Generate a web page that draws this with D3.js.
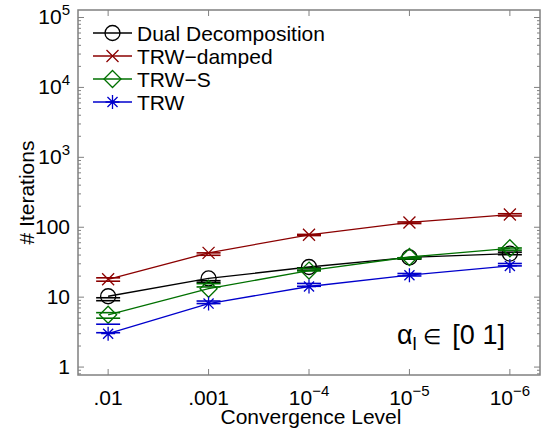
<!DOCTYPE html>
<html>
<head>
<meta charset="utf-8">
<script src="https://cdn.jsdelivr.net/npm/d3@7"></script>
<style>
body { margin: 0; background: #fff; }
text { font-family: "Liberation Sans", Arial, sans-serif; }
</style>
</head>
<body>
<div></div>
<script>
var width = 541;
var height = 428;

// data
var levels = ['.01', '.001', '-4', '-5', '-6'];
var seriesNames = ['Dual Decomposition', 'TRW-damped', 'TRW-S', 'TRW'];
var dualVals = [10.3, 18.5, 27, 37, 42];
var dualLo = [8.9, 16.2, 24.3, 34.9, 40.5];
var dualHi = [9.8, 17.2, 26.2, 36.6, 44];
var dampedVals = [18, 43, 78, 117, 152];
var dampedLo = [16.9, 39.7, 76, 113, 145];
var dampedHi = [18.9, 43, 79, 119, 156];
var trwsVals = [5.6, 13.2, 24, 37.5, 50];
var trwsLo = [5.0, 14, 23.7, 35.3, 47];
var trwsHi = [6.0, 15.6, 25.7, 36.5, 50.5];
var trwVals = [3.0, 8.1, 14.2, 20.6, 28];
var trwLo = [3.1, 8.1, 14.3, 20.1, 28];
var trwHi = [4.1, 8.8, 15.7, 21.8, 30.3];
var yTicks = [1, 10, 100, 1000, 10000, 100000];

var series = [
    { name: seriesNames[0], vals: dualVals, lo: dualLo, hi: dualHi, color: '#000000', marker: 'circle' },
    { name: seriesNames[1], vals: dampedVals, lo: dampedLo, hi: dampedHi, color: '#8b0000', marker: 'x' },
    { name: seriesNames[2], vals: trwsVals, lo: trwsLo, hi: trwsHi, color: '#007000', marker: 'diamond' },
    { name: seriesNames[3], vals: trwVals, lo: trwLo, hi: trwHi, color: '#0000cc', marker: 'star' }
];

var pL = 78, pR = 540, pT = 10, pB = 375;
var fs = 21;

var svg = d3.select('div')
    .append('svg').attr('width', width).attr('height', height);

var x = d3.scaleLinear().domain([0.7, 5.3]).range([pL, pR]);
var y = d3.scaleLog().domain([0.77, 128000]).range([pB, pT]);

var axisColor = '#808080';

// frame
svg.append('rect')
    .attr('x', pL).attr('y', pT)
    .attr('width', pR - pL).attr('height', pB - pT)
    .attr('fill', 'none').attr('stroke', axisColor).attr('stroke-width', 1.5);

var g = svg.append('g');

// y ticks (major + minor), left and right, inward
var minor = [];
yTicks.forEach(function (t) {
    for (var k = 2; k <= 9; k++) {
        if (t * k < 128000) minor.push(t * k);
    }
});
minor.push(0.8, 0.9);
minor.forEach(function (v) {
    g.append('line').attr('x1', pL).attr('x2', pL + 3)
        .attr('y1', y(v)).attr('y2', y(v)).attr('stroke', axisColor);
    g.append('line').attr('x1', pR).attr('x2', pR - 3)
        .attr('y1', y(v)).attr('y2', y(v)).attr('stroke', axisColor);
});
yTicks.forEach(function (v) {
    g.append('line').attr('x1', pL).attr('x2', pL + 6)
        .attr('y1', y(v)).attr('y2', y(v)).attr('stroke', axisColor);
    g.append('line').attr('x1', pR).attr('x2', pR - 6)
        .attr('y1', y(v)).attr('y2', y(v)).attr('stroke', axisColor);
});

// y tick labels
var yLab = g.selectAll('.ylab').data(yTicks).enter().append('text')
    .attr('x', pL - 8)
    .attr('y', function (d) { return y(d) + 7; })
    .attr('text-anchor', 'end')
    .attr('font-size', fs);
yLab.each(function (d) {
    var t = d3.select(this);
    if (d <= 100) {
        t.text(d);
    } else {
        t.append('tspan').text('10');
        t.append('tspan').attr('font-size', 15).attr('dy', -9).text(Math.round(Math.log10(d)));
    }
});

// x ticks top and bottom
levels.forEach(function (l, i) {
    var xx = x(i + 1);
    g.append('line').attr('x1', xx).attr('x2', xx).attr('y1', pB).attr('y2', pB - 6).attr('stroke', axisColor);
    g.append('line').attr('x1', xx).attr('x2', xx).attr('y1', pT).attr('y2', pT + 6).attr('stroke', axisColor);
    var t = g.append('text').attr('x', xx).attr('y', 405).attr('text-anchor', 'middle').attr('font-size', fs);
    if (l.charAt(0) == '.') {
        t.text(l);
    } else {
        t.append('tspan').text('10');
        t.append('tspan').attr('font-size', 15).attr('dy', -9).text('\u2212' + l.slice(1));
    }
});

// axis titles
svg.append('text').attr('x', 311).attr('y', 424).attr('text-anchor', 'middle')
    .attr('font-size', fs).text('Convergence Level');
svg.append('text')
    .attr('transform', 'translate(34,' + ((pT + pB) / 2) + ') rotate(-90)')
    .attr('text-anchor', 'middle').attr('font-size', fs).text('# Iterations');

function drawMarker(sel, type, cx, cy, color) {
    if (type == 'circle') {
        sel.append('circle').attr('cx', cx).attr('cy', cy).attr('r', 7.5)
            .attr('fill', 'none').attr('stroke', color).attr('stroke-width', 1.3);
    } else if (type == 'x') {
        var s = 6;
        sel.append('path')
            .attr('d', 'M' + (cx - s) + ',' + (cy - s) + 'L' + (cx + s) + ',' + (cy + s) +
                'M' + (cx - s) + ',' + (cy + s) + 'L' + (cx + s) + ',' + (cy - s))
            .attr('stroke', color).attr('stroke-width', 1.3);
    } else if (type == 'diamond') {
        var s = 8.5;
        sel.append('path')
            .attr('d', 'M' + cx + ',' + (cy - s) + 'L' + (cx + s) + ',' + cy + 'L' + cx + ',' + (cy + s) +
                'L' + (cx - s) + ',' + cy + 'Z')
            .attr('fill', 'none').attr('stroke', color).attr('stroke-width', 1.3);
    } else {
        var s = 7, d = s * 0.72;
        sel.append('path')
            .attr('d', 'M' + (cx - s) + ',' + cy + 'L' + (cx + s) + ',' + cy +
                'M' + cx + ',' + (cy - s) + 'L' + cx + ',' + (cy + s) +
                'M' + (cx - d) + ',' + (cy - d) + 'L' + (cx + d) + ',' + (cy + d) +
                'M' + (cx - d) + ',' + (cy + d) + 'L' + (cx + d) + ',' + (cy - d))
            .attr('stroke', color).attr('stroke-width', 1.3);
    }
}

var line = d3.line()
    .x(function (d, i) { return x(i + 1); })
    .y(function (d) { return y(d); });

series.forEach(function (s) {
    var sg = g.append('g');
    sg.append('path').attr('d', line(s.vals))
        .attr('fill', 'none').attr('stroke', s.color).attr('stroke-width', 1.3);
    s.vals.forEach(function (v, i) {
        var xx = x(i + 1);
        [s.lo[i], s.hi[i]].forEach(function (c) {
            sg.append('line').attr('x1', xx - 12).attr('x2', xx + 12)
                .attr('y1', y(c)).attr('y2', y(c))
                .attr('stroke', s.color).attr('stroke-width', 1.6);
        });
        drawMarker(sg, s.marker, xx, y(v), s.color);
    });
});

// legend
var leg = svg.append('g');
series.forEach(function (s, i) {
    var ly = 33 + i * 23;
    leg.append('line').attr('x1', 93).attr('x2', 132).attr('y1', ly).attr('y2', ly)
        .attr('stroke', s.color).attr('stroke-width', 1.3);
    drawMarker(leg, s.marker, 112.5, ly, s.color);
    leg.append('text').attr('x', 137).attr('y', ly + 7.5).attr('font-size', fs)
        .text(s.name.replace('-', '\u2212'));
});

// annotation
var ann = svg.append('text').attr('x', 397).attr('y', 344).attr('font-size', 27)
    .style('white-space', 'pre');
ann.append('tspan').text('\u03b1');
ann.append('tspan').attr('font-size', 19).attr('dy', 6).text('l');
ann.append('tspan').attr('dy', -6).attr('font-size', 21).text(' \u2208  ');
ann.append('tspan').text('[0 1]');
</script>
</body>
</html>
